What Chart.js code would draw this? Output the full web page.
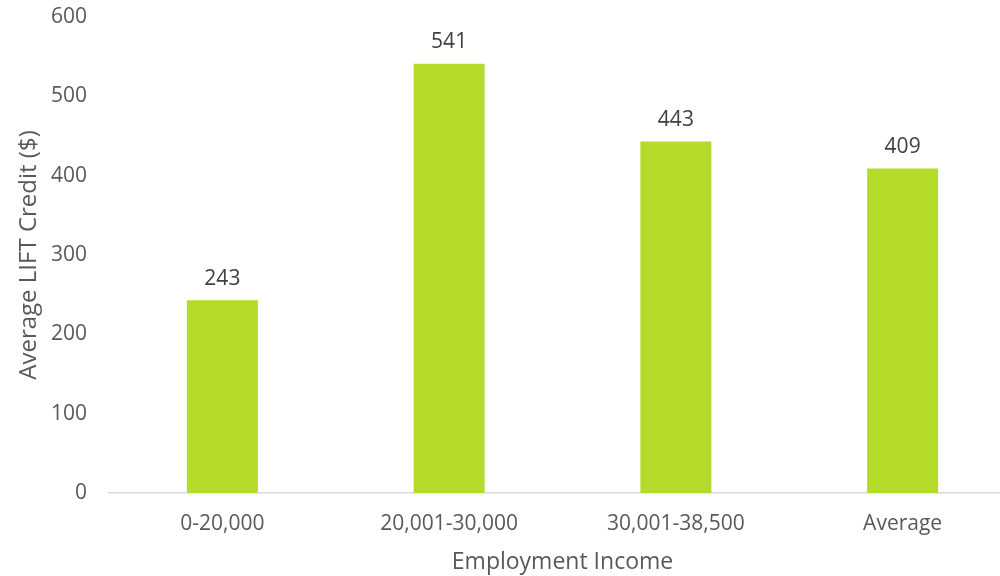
<!DOCTYPE html>
<html>
<head>
<meta charset="utf-8">
<script src="https://cdn.jsdelivr.net/npm/chart.js@4"></script>
<style>
html,body{margin:0;padding:0;background:#fff;overflow:hidden;}
#wrap{width:1016px;height:576px;position:relative;}
</style>
</head>
<body>
<div id="wrap"><canvas id="c"></canvas></div>
<script>
const categories = ["0-20,000", "20,001-30,000", "30,001-38,500", "Average"];
const creditValues = [243, 541, 443, 409];
const yTickValues = [0, 100, 200, 300, 400, 500, 600];
const xTitle = "Employment Income";
const yTitle = "Average LIFT Credit ($)";

const FONT = "'Open Sans', sans-serif";

const labelPlugin = {
  id: 'barLabels',
  afterDatasetsDraw(chart) {
    const ctx = chart.ctx;
    const meta = chart.getDatasetMeta(0);
    ctx.save();
    ctx.font = "21px " + FONT;
    ctx.fillStyle = "#404040";
    ctx.textAlign = "center";
    ctx.textBaseline = "bottom";
    meta.data.forEach((bar, i) => {
      ctx.fillText(String(chart.data.datasets[0].data[i]), bar.x, bar.y - 11);
    });
    ctx.restore();
  }
};

new Chart(document.getElementById('c'), {
  type: 'bar',
  data: {
    labels: categories,
    datasets: [{
      data: creditValues,
      backgroundColor: '#B4DA2A',
      borderWidth: 0,
      barPercentage: 0.313,
      categoryPercentage: 1.0
    }]
  },
  options: {
    responsive: true,
    maintainAspectRatio: false,
    animation: false,
    layout: { padding: { top: 17, right: 0, left: 0, bottom: 0 } },
    plugins: { legend: { display: false }, tooltip: { enabled: false } },
    scales: {
      x: {
        grid: { display: false, drawTicks: false },
        border: { display: true, color: '#D9D9D9', width: 1.5 },
        ticks: { color: '#595959', font: { family: FONT, size: 21 }, padding: 18 },
        title: { display: true, text: xTitle, color: '#595959', font: { family: FONT, size: 23 }, padding: { top: 6, bottom: 0 } },
        afterFit(scale) { scale.height = 83; }
      },
      y: {
        min: 0, max: 600,
        afterBuildTicks(scale) { scale.ticks = yTickValues.map(v => ({ value: v })); },
        grid: { display: false, drawTicks: false },
        border: { display: false },
        ticks: { color: '#595959', font: { family: FONT, size: 21 }, padding: 22 },
        title: { display: true, text: yTitle, color: '#595959', font: { family: FONT, size: 24 }, padding: { top: 15, bottom: 0 } },
        afterFit(scale) { scale.width = 109; scale.paddingTop = 0; scale.paddingBottom = 0; }
      }
    }
  },
  plugins: [labelPlugin]
});
</script>
</body>
</html>
